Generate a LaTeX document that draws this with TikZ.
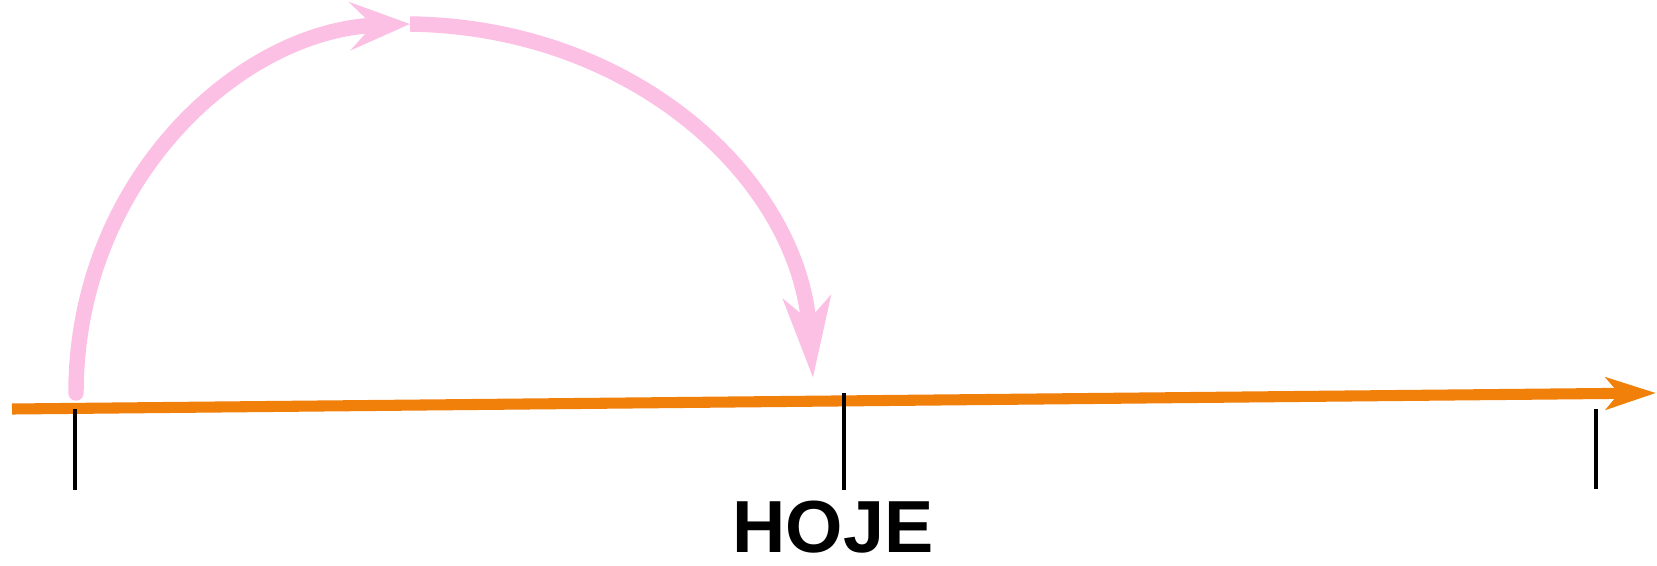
\documentclass[tikz,border=0pt]{standalone}
\usepackage{fontspec}
\setmainfont{Liberation Sans}
\usetikzlibrary{arrows.meta}
\definecolor{rosa}{RGB}{251,192,228}
\definecolor{laranja}{RGB}{240,128,10}
\tikzset{
  linha/.style={laranja, line width=6.3pt, -{Stealth[length=1cm,width=0.64cm,inset=0.26cm]}},
  marca/.style={black, line width=2pt},
  salto/.style={rosa, line width=8.8pt}
}

\begin{document}
\begin{tikzpicture}[x=0.02cm,y=-0.02cm]
  \useasboundingbox (0,0) rectangle (1657,565);
  % time line and its ticks
  \coordinate (inicio) at (12,409);
  \coordinate (fim) at (1656,393);
  \draw[linha] (inicio) -- (fim);
  \draw[marca] (75,409) -- (75,490);
  \draw[marca] (844,393) -- (844,490);
  \draw[marca] (1596,409) -- (1596,489);
  % the two jumps
  \coordinate (partida) at (76,393);
  \coordinate (topo) at (410,24);
  \coordinate (chegada) at (813,378);
  \draw[salto, line cap=round, -{Stealth[length=1.2cm,width=0.96cm,inset=0.46cm]}]
    (partida) .. controls (76,180) and (240,30) .. (topo);
  \draw[salto, -{Stealth[length=1.6cm,width=0.94cm,inset=0.44cm]}]
    (topo) .. controls (635,27) and (798,180) .. (chegada);
  \node[font=\bfseries\fontsize{42}{42}\selectfont, inner sep=0pt] (hoje) at (833,527) {HOJE};
\end{tikzpicture}
\end{document}
